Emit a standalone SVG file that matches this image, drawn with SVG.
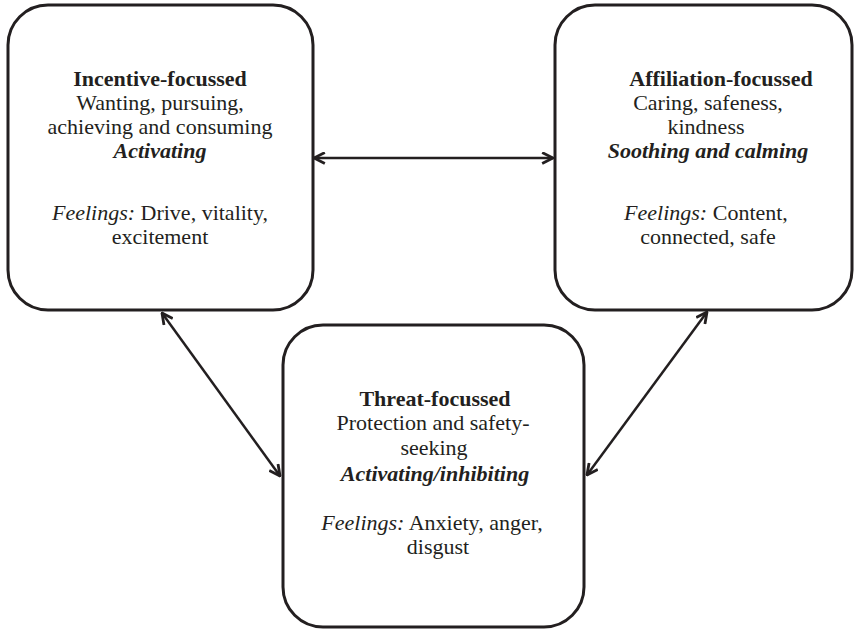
<svg xmlns="http://www.w3.org/2000/svg" width="854" height="629" viewBox="0 0 854 629">
  <style>
    .box { fill: #ffffff; stroke: #231f20; stroke-width: 3; }
    .link { stroke: #231f20; stroke-width: 2.5; fill: none; marker-start: url(#head); marker-end: url(#head); }
    text { font-family: "Liberation Serif", "Times New Roman", serif; font-size: 22px; fill: #231f20; text-anchor: middle; }
    .b { font-weight: bold; }
    .i { font-style: italic; }
    .bi { font-weight: bold; font-style: italic; }
  </style>
  <defs>
    <!-- open chevron arrowhead, used at both ends of every link -->
    <marker id="head" viewBox="0 0 12 12" refX="11" refY="6" markerWidth="13" markerHeight="13" markerUnits="userSpaceOnUse" orient="auto-start-reverse">
      <path d="M1,1 L11,6 L1,11" fill="none" stroke="#231f20" stroke-width="2.6" stroke-linejoin="miter"/>
    </marker>
  </defs>

  <rect width="854" height="629" fill="#ffffff"/>

  <!-- connectors -->
  <g id="connectors">
    <line class="link" x1="314" y1="158" x2="553" y2="158"/>
    <line class="link" x1="162" y1="313" x2="280" y2="476"/>
    <line class="link" x1="707" y1="312" x2="587" y2="475"/>
  </g>

  <!-- incentive system -->
  <g id="incentive">
    <rect class="box" x="8" y="5" width="305" height="305" rx="40" ry="40"/>
    <text x="160" y="86" class="b">Incentive-focussed</text>
    <text x="160" y="110">Wanting, pursuing,</text>
    <text x="160" y="134">achieving and consuming</text>
    <text x="160" y="158" class="bi">Activating</text>
    <text x="160" y="220"><tspan class="i">Feelings:</tspan> Drive, vitality,</text>
    <text x="160" y="244">excitement</text>
  </g>

  <!-- affiliation system -->
  <g id="affiliation">
    <rect class="box" x="555" y="5" width="297" height="305" rx="40" ry="40"/>
    <text x="721" y="86" class="b">Affiliation-focussed</text>
    <text x="708" y="110">Caring, safeness,</text>
    <text x="706" y="134">kindness</text>
    <text x="708" y="158" class="bi">Soothing and calming</text>
    <text x="706" y="220"><tspan class="i">Feelings:</tspan> Content,</text>
    <text x="708" y="244">connected, safe</text>
  </g>

  <!-- threat system -->
  <g id="threat">
    <rect class="box" x="283" y="325" width="301" height="302" rx="40" ry="40"/>
    <text x="435" y="406" class="b">Threat-focussed</text>
    <text x="433" y="430">Protection and safety-</text>
    <text x="434" y="455">seeking</text>
    <text x="435" y="481" class="bi">Activating/inhibiting</text>
    <text x="432" y="530"><tspan class="i">Feelings:</tspan> Anxiety, anger,</text>
    <text x="438" y="554">disgust</text>
  </g>
</svg>
